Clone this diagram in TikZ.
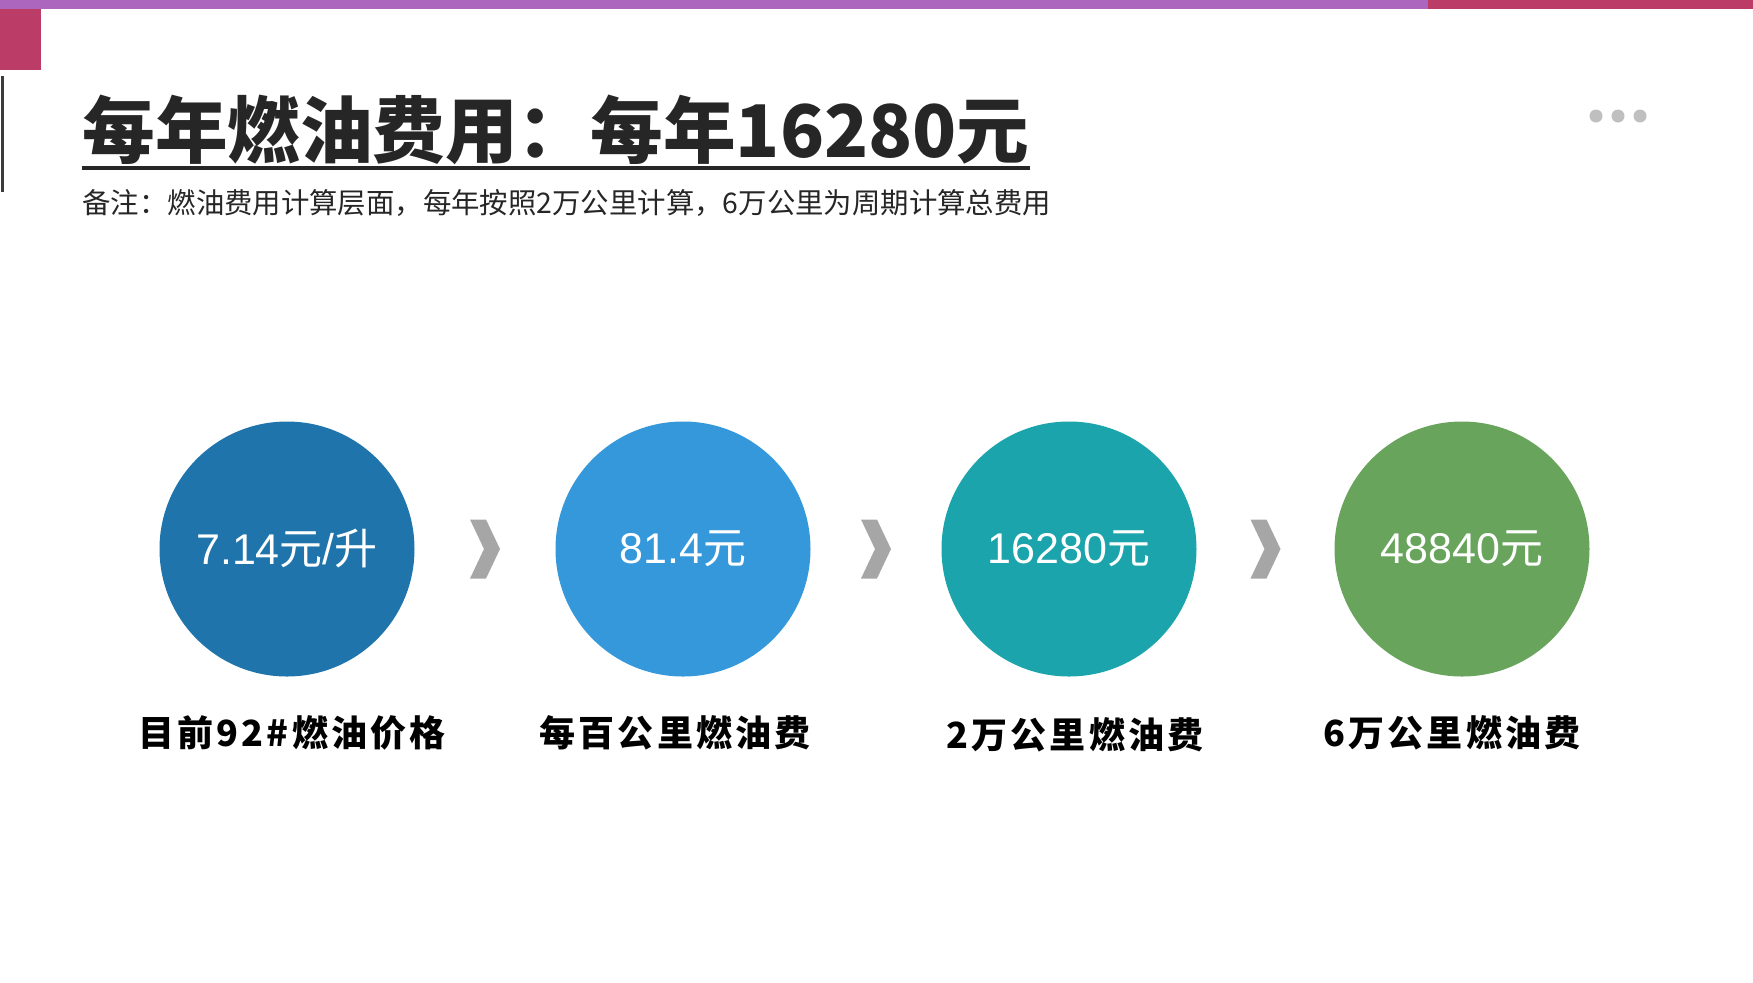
\documentclass[tikz,border=0pt]{standalone}
\usepackage{fontspec}
\setmainfont{Liberation Sans}
\newfontfamily\cjk{Noto Sans CJK SC}
\newfontfamily\cjklab[LetterSpace=9]{Noto Sans CJK SC}
\usetikzlibrary{calc}
\definecolor{barpurple}{RGB}{173,102,189}
\definecolor{barpink}{RGB}{187,60,103}
\definecolor{titlegray}{RGB}{38,38,38}
\definecolor{dotgray}{RGB}{191,191,191}
\definecolor{chevgray}{RGB}{166,166,166}
\definecolor{priceblue}{RGB}{31,116,171}
\definecolor{lightblue}{RGB}{53,152,219}
\definecolor{tealgreen}{RGB}{27,164,171}
\definecolor{grassgreen}{RGB}{104,164,92}
\tikzset{
	stepcircle/.style={circle,fill=#1,minimum size=127.5pt,inner sep=0pt,text=white,font=\fontsize{21.5}{24}\selectfont},
	steplabel/.style={anchor=base,inner sep=0pt,font=\cjklab\bfseries\fontsize{18}{20}\selectfont},
	chev/.pic={\fill[chevgray] (-15,-29.5) -- (1,-29.5) -- (15,0) -- (1,29.5) -- (-15,29.5) -- (-1,0) -- cycle;}
}
\begin{document}
\begin{tikzpicture}[x=0.5pt,y=-0.5pt]
	\useasboundingbox (0,0) rectangle (1753,982);
	% top bar and corner mark
	\fill[barpurple] (0,0) rectangle (1428,9);
	\fill[barpink] (1428,0) rectangle (1753,9);
	\fill[barpink] (0,9) rectangle (41,70);
	\draw[titlegray!90,line width=1.5pt] (2,76) -- (2,192);
	% heading
	\node[anchor=base west,inner sep=0pt,text=titlegray,font=\cjk\bfseries\fontsize{36.3}{40}\selectfont] (title) at (82,157) {每年燃油费用：每年16280元};
	\coordinate (uline) at (0,168);
	\draw[titlegray,line width=2pt] (title.west |- uline) -- (title.east |- uline);
	\node[anchor=base west,inner sep=0pt,text=titlegray,font=\cjk\fontsize{14.2}{16}\selectfont] (note) at (82,213) {备注：燃油费用计算层面，每年按照2万公里计算，6万公里为周期计算总费用};
	\foreach \x in {1596,1618,1640} \fill[dotgray] (\x,116) circle (6.5);
	% steps
	\node[stepcircle=priceblue] (c1) at (287,549) {7.14{\cjk 元}/{\cjk 升}};
	\node[stepcircle=lightblue] (c2) at (683,549) {81.4{\cjk 元}};
	\node[stepcircle=tealgreen] (c3) at (1069,549) {16280{\cjk 元}};
	\node[stepcircle=grassgreen] (c4) at (1462,549) {48840{\cjk 元}};
	\foreach \a/\b in {c1/c2,c2/c3,c3/c4} \pic at ($(\a)!0.5!(\b)$) {chev};
	\node[steplabel] (l1) at (292,746) {目前92\#燃油价格};
	\node[steplabel] (l2) at (675,746) {每百公里燃油费};
	\node[steplabel] (l3) at (1075,748) {2万公里燃油费};
	\node[steplabel] (l4) at (1452,746) {6万公里燃油费};
\end{tikzpicture}
\end{document}
